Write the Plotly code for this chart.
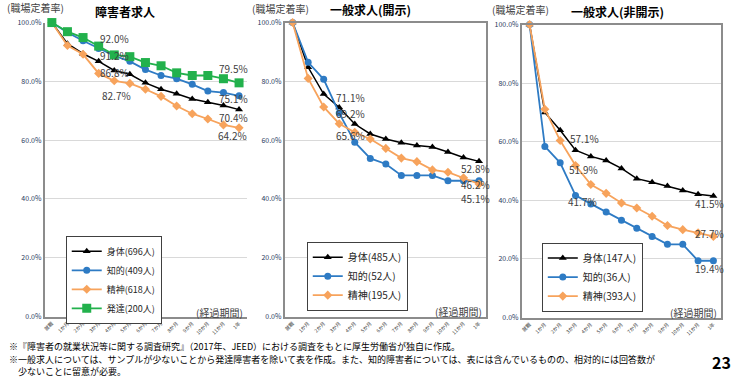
import plotly.graph_objects as go

W, H = 737, 381
FONT = "Noto Sans CJK JP"

categories = ["就職", "1か月", "2か月", "3か月", "4か月", "5か月", "6か月",
              "7か月", "8か月", "9か月", "10か月", "11か月", "1年"]

# Panel 1: 障害者求人
p1_shintai = [100, 92.8, 89.4, 86.8, 83.7, 82.4, 79.5, 77.3, 75.8, 74.0, 72.9, 71.8, 70.4]
p1_chiteki = [100, 96.6, 93.8, 91.2, 88.7, 86.8, 84.0, 82.0, 80.9, 79.0, 76.7, 76.2, 75.1]
p1_seishin = [100, 92.2, 89.2, 82.7, 80.2, 79.3, 77.3, 74.9, 71.6, 69.0, 67.2, 65.2, 64.2]
p1_hattatsu = [100, 96.9, 94.9, 92.0, 89.0, 88.4, 86.4, 85.3, 82.9, 82.0, 82.0, 80.9, 79.5]

# Panel 2: 一般求人(開示)
p2_shintai = [100, 84.8, 75.7, 71.1, 65.5, 62.1, 60.4, 59.1, 58.2, 57.7, 56.0, 54.1, 52.8]
p2_chiteki = [100, 86.5, 80.7, 69.2, 59.3, 53.8, 51.9, 48.0, 48.0, 48.0, 46.2, 46.2, 46.2]
p2_seishin = [100, 81.0, 71.3, 65.6, 62.7, 60.4, 57.2, 53.9, 52.7, 49.9, 49.1, 47.2, 45.1]

# Panel 3: 一般求人(非開示)
p3_shintai = [100, 70.0, 63.9, 57.1, 55.0, 53.6, 50.9, 47.4, 46.2, 44.9, 43.4, 42.1, 41.5]
p3_chiteki = [100, 58.4, 52.8, 41.7, 38.8, 36.0, 33.2, 30.5, 27.7, 25.0, 25.0, 19.4, 19.4]
p3_seishin = [100, 71.1, 60.4, 51.9, 45.4, 42.4, 39.1, 37.4, 34.6, 31.4, 30.0, 28.9, 27.7]

titles = ["障害者求人", "一般求人(開示)", "一般求人(非開示)"]
legend_names = [
    ["身体(696人)", "知的(409人)", "精神(618人)", "発達(200人)"],
    ["身体(485人)", "知的(52人)", "精神(195人)"],
    ["身体(147人)", "知的(36人)", "精神(393人)"],
]
ytick_vals = [0, 20, 40, 60, 80, 100]

BLACK = "#000000"
BLUE = "#2E7BC4"
ORANGE = "#F7A35C"
GREEN = "#22B14C"

styles = {
    "shintai": dict(color=BLACK, symbol="triangle-up", size=7, width=1.5),
    "chiteki": dict(color=BLUE, symbol="circle", size=7, width=1.8),
    "seishin": dict(color=ORANGE, symbol="diamond", size=7, width=1.8),
    "hattatsu": dict(color=GREEN, symbol="square", size=9, width=1.8),
}

panels = [
    dict(series=[("shintai", p1_shintai), ("chiteki", p1_chiteki), ("seishin", p1_seishin), ("hattatsu", p1_hattatsu)],
         xdom=(42, 245), ydom=(17, 319), xr=[-0.45, 12.51], box=False, legxy=(63, 236), legfont=9),
    dict(series=[("shintai", p2_shintai), ("chiteki", p2_chiteki), ("seishin", p2_seishin)],
         xdom=(283, 485), ydom=(17, 319), xr=[-0.5, 12.45], box=True, legxy=(305, 242), legfont=10),
    dict(series=[("shintai", p3_shintai), ("chiteki", p3_chiteki), ("seishin", p3_seishin)],
         xdom=(521, 721), ydom=(19, 320), xr=[-0.5, 12.5], box=True, legxy=(541, 243), legfont=10),
]

fig = go.Figure()
layout = dict(width=W, height=H, margin=dict(l=0, r=0, t=0, b=0),
              paper_bgcolor="white", plot_bgcolor="white",
              font=dict(family=FONT, color="#404040"))
annotations = []

for i, p in enumerate(panels):
    n = "" if i == 0 else str(i + 1)
    leg = "legend" if i == 0 else f"legend{i+1}"
    for j, (key, vals) in enumerate(p["series"]):
        s = styles[key]
        fig.add_trace(go.Scatter(
            x=categories, y=vals, mode="lines+markers", name=legend_names[i][j],
            line=dict(color=s["color"], width=s["width"]),
            marker=dict(color=s["color"], symbol=s["symbol"], size=s["size"]),
            xaxis="x" + n, yaxis="y" + n, legend=leg, cliponaxis=False,
        ))
    x0, x1 = p["xdom"]
    yt, yb = p["ydom"]
    layout["xaxis" + n] = dict(
        domain=[x0 / W, x1 / W], anchor="y" + n, type="category", range=p["xr"],
        showline=True, linecolor="#8C8C8C", linewidth=2, mirror=p["box"],
        showgrid=False, ticks="", tickangle=-45,
        tickfont=dict(size=5, color="#404040", family=FONT), fixedrange=True,
    )
    layout["yaxis" + n] = dict(
        domain=[1 - yb / H, 1 - yt / H], anchor="x" + n, range=[0, 100],
        tickvals=ytick_vals, ticktext=[f"{v:.1f}%" for v in ytick_vals],
        showline=True, linecolor="#8C8C8C", linewidth=2, mirror=p["box"],
        showgrid=True, gridcolor="#D9D9D9", gridwidth=1, zeroline=False, ticks="",
        tickfont=dict(size=7, color="#1F3A60", family=FONT),
    )
    lx, ly = p["legxy"]
    layout[leg] = dict(
        x=lx / W, y=1 - ly / H, xanchor="left", yanchor="top", xref="paper", yref="paper",
        bgcolor="white", bordercolor="#404040", borderwidth=1,
        font=dict(size=p["legfont"], color="#262626", family=FONT),
        itemwidth=30, tracegroupgap=0,
    )

# titles, axis captions
title_pos = [(123, 6), (369, 4), (617, 6)]
for (tx, ty), t in zip(title_pos, titles):
    annotations.append(dict(text=f"<b>{t}</b>", x=tx / W, y=1 - ty / H, xref="paper", yref="paper",
                            showarrow=False, xanchor="center", yanchor="middle",
                            font=dict(size=12, color="#000000", family=FONT)))
for yx, yy in [(2, 2), (248, 3), (489, 4)]:
    annotations.append(dict(text="(職場定着率)", x=yx / W, y=1 - yy / H, xref="paper", yref="paper",
                            showarrow=False, xanchor="left", yanchor="middle",
                            font=dict(size=10, color="#404040", family=FONT)))
for ex, ey in [(243, 315), (483, 314), (719, 315)]:
    annotations.append(dict(text="(経過期間)", x=ex / W, y=1 - ey / H, xref="paper", yref="paper",
                            showarrow=False, xanchor="right", yanchor="middle",
                            font=dict(size=10, color="#404040", family=FONT)))

# data labels: (panel index, series values, category index, xanchor, xshift, yshift)
labels = [
    (0, p1_hattatsu, 3, "left", -1, 5),
    (0, p1_chiteki, 3, "left", -1, -10),
    (0, p1_shintai, 3, "left", -1, -14),
    (0, p1_seishin, 3, "left", 1, -25),
    (0, p1_hattatsu, 12, "center", -6, 11),
    (0, p1_chiteki, 12, "center", -6, -6),
    (0, p1_shintai, 12, "center", -6, -11),
    (0, p1_seishin, 12, "center", -7, -11),
    (1, p2_shintai, 3, "left", -5, 7),
    (1, p2_chiteki, 3, "left", -5, -3),
    (1, p2_seishin, 3, "left", -5, -15),
    (1, p2_shintai, 12, "center", -4, -10),
    (1, p2_chiteki, 12, "center", -4, -7),
    (1, p2_seishin, 12, "center", -4, -17),
    (2, p3_shintai, 3, "left", -8, 9),
    (2, p3_seishin, 3, "left", -9, -7),
    (2, p3_chiteki, 3, "left", -10, -9),
    (2, p3_shintai, 12, "center", -4, -11),
    (2, p3_seishin, 12, "center", -4, 0),
    (2, p3_chiteki, 12, "center", -4, -11),
]
for pi, vals, ci, xa, xs, ys in labels:
    n = "" if pi == 0 else str(pi + 1)
    annotations.append(dict(text=f"{vals[ci]:.1f}%", x=categories[ci], y=vals[ci],
                            xref="x" + n, yref="y" + n, showarrow=False,
                            xanchor=xa, yanchor="middle", xshift=xs, yshift=ys + 3,
                            font=dict(size=10, color="#404040", family=FONT)))

# footer
footer = [
    "※『障害者の就業状況等に関する調査研究』（2017年、JEED）における調査をもとに厚生労働省が独自に作成。",
    "※一般求人については、サンプルが少ないことから発達障害者を除いて表を作成。また、知的障害者については、表には含んでいるものの、相対的には回答数が",
    "　少ないことに留意が必要。",
]
for txt, fy in zip(footer, [350, 363, 375]):
    annotations.append(dict(text=txt, x=4 / W, y=1 - fy / H, xref="paper", yref="paper",
                            showarrow=False, xanchor="left", yanchor="middle",
                            font=dict(size=9, color="#000000", family=FONT)))
annotations.append(dict(text="<b>23</b>", x=733 / W, y=1 - 366 / H, xref="paper", yref="paper",
                        showarrow=False, xanchor="right", yanchor="middle",
                        font=dict(size=16, color="#000000", family=FONT)))

layout["annotations"] = annotations
fig.update_layout(**layout)
fig.write_html("out.html", config={"displayModeBar": False},
               post_script="document.body.style.margin='0';document.body.style.overflow='hidden';")
